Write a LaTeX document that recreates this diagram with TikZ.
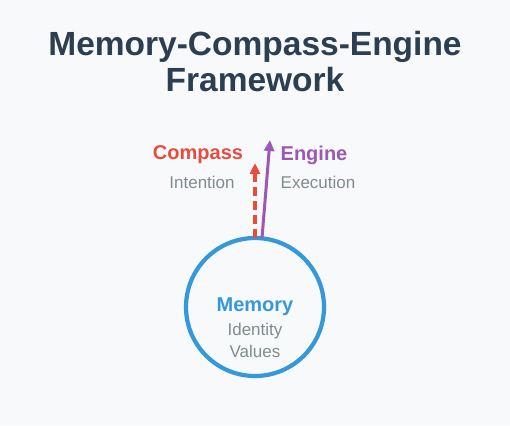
\documentclass[tikz,border=0pt]{standalone}
\usepackage{fontspec}
\setmainfont{Liberation Sans}
\usetikzlibrary{arrows.meta}
\definecolor{bg}{HTML}{F8F9FA}
\definecolor{titlec}{HTML}{2C3E50}
\definecolor{redc}{HTML}{E74C3C}
\definecolor{purc}{HTML}{9B59B6}
\definecolor{bluec}{HTML}{3498DB}
\definecolor{grayc}{HTML}{7F8C8D}
\begin{document}
\begin{tikzpicture}[x=1pt,y=-1pt,
  titletext/.style={font=\bfseries\fontsize{33.5}{36}\selectfont,text=titlec,inner sep=0},
  headtext/.style={font=\bfseries\fontsize{20}{22}\selectfont,inner sep=0},
  subtext/.style={font=\fontsize{17}{19}\selectfont,text=grayc,inner sep=0}]
\fill[bg] (0,0) rectangle (510,425);
\useasboundingbox (0,0) rectangle (510,425);
\node[titletext] (t1) at (255,47) {Memory-Compass-Engine};
\node[titletext] (t2) at (255,80) {Framework};
\node[circle,draw=bluec,line width=4.2pt,minimum size=138pt,inner sep=0] (mem) at (255,307) {};
\node[headtext,text=bluec] (memt) at (255,307) {Memory};
\node[subtext] (id) at (255,331) {Identity};
\node[subtext] (val) at (255,351) {Values};
\coordinate (cs) at (255,238);
\coordinate (ct) at (255,163);
\coordinate (es) at (262,238);
\coordinate (et) at (270,140);
\draw[redc,line width=3.5pt,dash pattern=on 9pt off 5pt,-{Triangle[length=11pt,width=10pt]}] (cs) -- (ct);
\draw[purc,line width=3pt,-{Triangle[length=11pt,width=10pt]}] (es) -- (et);
\node[headtext,text=redc] (comp) at (198,155) {Compass};
\node[subtext] (int) at (202,182) {Intention};
\node[headtext,text=purc] (eng) at (314,155) {Engine};
\node[subtext] (exe) at (318,182) {Execution};
\end{tikzpicture}
\end{document}
